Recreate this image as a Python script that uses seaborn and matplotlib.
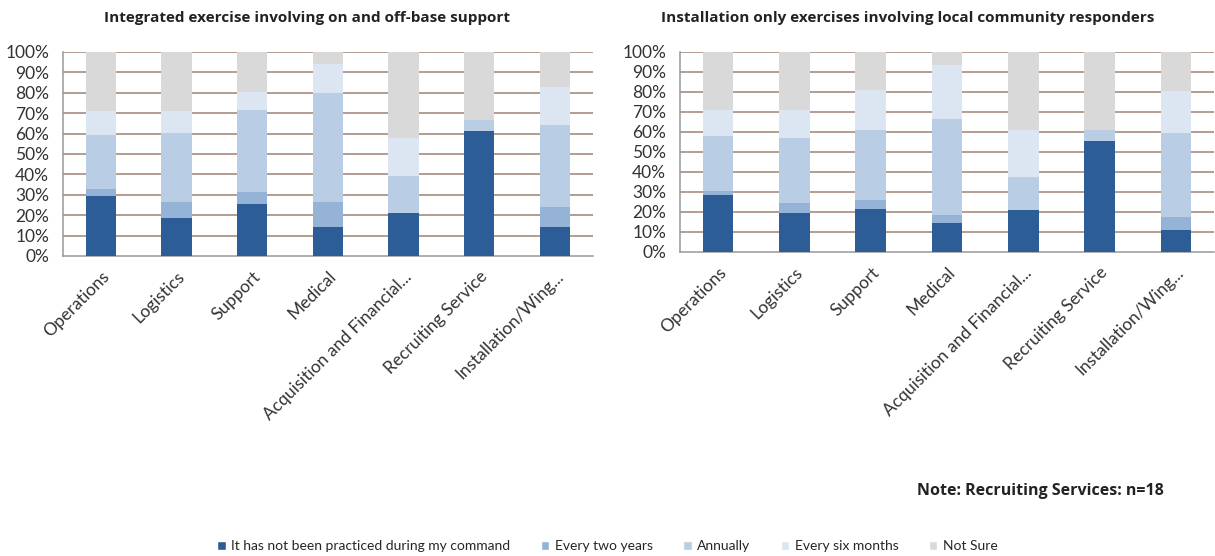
import numpy as np
import pandas as pd
import matplotlib
matplotlib.use("Agg")
import matplotlib.pyplot as plt
import seaborn as sns
from matplotlib.patches import Patch

# Categories and answer levels
units = ["Operations", "Logistics", "Support", "Medical",
         "Acquisition and Financial...", "Recruiting Service", "Installation/Wing..."]
levels = ["It has not been practiced during my command", "Every two years",
          "Annually", "Every six months", "Not Sure"]
colors = ["#2c5d96", "#95b3d7", "#b9cde5", "#dce6f2", "#d9d9d9"]

# Left panel: integrated exercise (percent of respondents)
left_never = [29.5, 18.8, 25.5, 14.1, 20.9, 61.1, 14.1]
left_two_years = [3.4, 7.9, 6.1, 12.3, 0.0, 0.0, 9.8]
left_annually = [26.5, 33.5, 39.8, 53.5, 18.4, 5.6, 40.4]
left_six_months = [11.5, 10.7, 9.0, 14.2, 18.5, 0.0, 18.3]
left_not_sure = [29.1, 29.1, 19.6, 5.9, 42.2, 33.3, 17.4]

# Right panel: installation only exercises
right_never = [28.3, 19.5, 21.7, 14.5, 20.8, 55.6, 11.2]
right_two_years = [2.0, 5.0, 4.5, 4.2, 0.0, 0.0, 6.1]
right_annually = [27.5, 32.5, 35.0, 48.0, 16.7, 5.5, 42.2]
right_six_months = [13.4, 13.8, 19.6, 27.0, 23.3, 0.0, 20.8]
right_not_sure = [28.8, 29.2, 19.2, 6.3, 39.2, 38.9, 19.7]

left_title = "Integrated exercise involving on and off-base support"
right_title = "Installation only exercises involving local community responders"
note = "Note: Recruiting Services: n=18"

sns.set_style("white")
plt.rcParams["font.family"] = ["Lato", "DejaVu Sans"]


def stacked_panel(ax, series):
    df = pd.DataFrame(dict(zip(levels, series)), index=units)
    cum = df.cumsum(axis=1)
    # draw from the top layer down so each shorter bar covers the taller one
    for lvl, col in reversed(list(zip(levels, colors))):
        sns.barplot(x=units, y=cum[lvl].values, color=col, width=0.4,
                    saturation=1, ax=ax, zorder=3, edgecolor="none")
    ax.set_ylim(0, 100)
    ax.set_xlim(-0.5, len(units) - 0.5)
    yt = np.arange(0, 101, 10)
    ax.set_yticks(yt)
    ax.set_yticklabels([f"{v}%" for v in yt], fontsize=12.5, color="#333333")
    # Excel-style horizontal gridlines behind the bars
    for y in yt[1:]:
        ax.axhline(y, color="#ad9587", linewidth=1.3, zorder=1)
    ax.set_xticks(range(len(units)))
    ax.set_xticklabels(units, rotation=45, ha="right", rotation_mode="anchor",
                       fontsize=12.5, color="#333333")
    ax.set_xticks(np.arange(-0.5, len(units)), minor=True)
    ax.tick_params(axis="x", which="major", length=0, pad=9)
    ax.tick_params(axis="x", which="minor", length=5, width=1, color="#999999", direction="out")
    ax.tick_params(axis="y", length=6, width=1, color="#999999", direction="out", pad=4)
    for s in ["top", "right"]:
        ax.spines[s].set_visible(False)
    for s in ["left", "bottom"]:
        ax.spines[s].set_color("#999999")
        ax.spines[s].set_linewidth(1.1)
    ax.set_xlabel("")
    ax.set_ylabel("")


fig = plt.figure(figsize=(12.15, 5.56), dpi=100)
ax1 = fig.add_axes([0.0519, 0.5396, 0.436, 0.367])
ax2 = fig.add_axes([0.5597, 0.5468, 0.4395, 0.3597])

stacked_panel(ax1, [left_never, left_two_years, left_annually, left_six_months, left_not_sure])
stacked_panel(ax2, [right_never, right_two_years, right_annually, right_six_months, right_not_sure])

fig.text(0.253, 0.967, left_title, ha="center", va="center", fontsize=11,
         fontweight="bold", family="Open Sans", color="#222222")
fig.text(0.747, 0.967, right_title, ha="center", va="center", fontsize=11,
         fontweight="bold", family="Open Sans", color="#222222")

fig.text(0.958, 0.117, note, ha="right", va="center", fontsize=11.5,
         fontweight="bold", family="Open Sans", color="#222222")

handles = [Patch(facecolor=c, label=l) for l, c in zip(levels, colors)]
fig.legend(handles=handles, loc="center", bbox_to_anchor=(0.5, 0.018), ncol=5,
           frameon=False, fontsize=10, handlelength=0.6, handleheight=0.6,
           handletextpad=0.4, columnspacing=2.2)

fig.savefig("out.png", dpi=100)
